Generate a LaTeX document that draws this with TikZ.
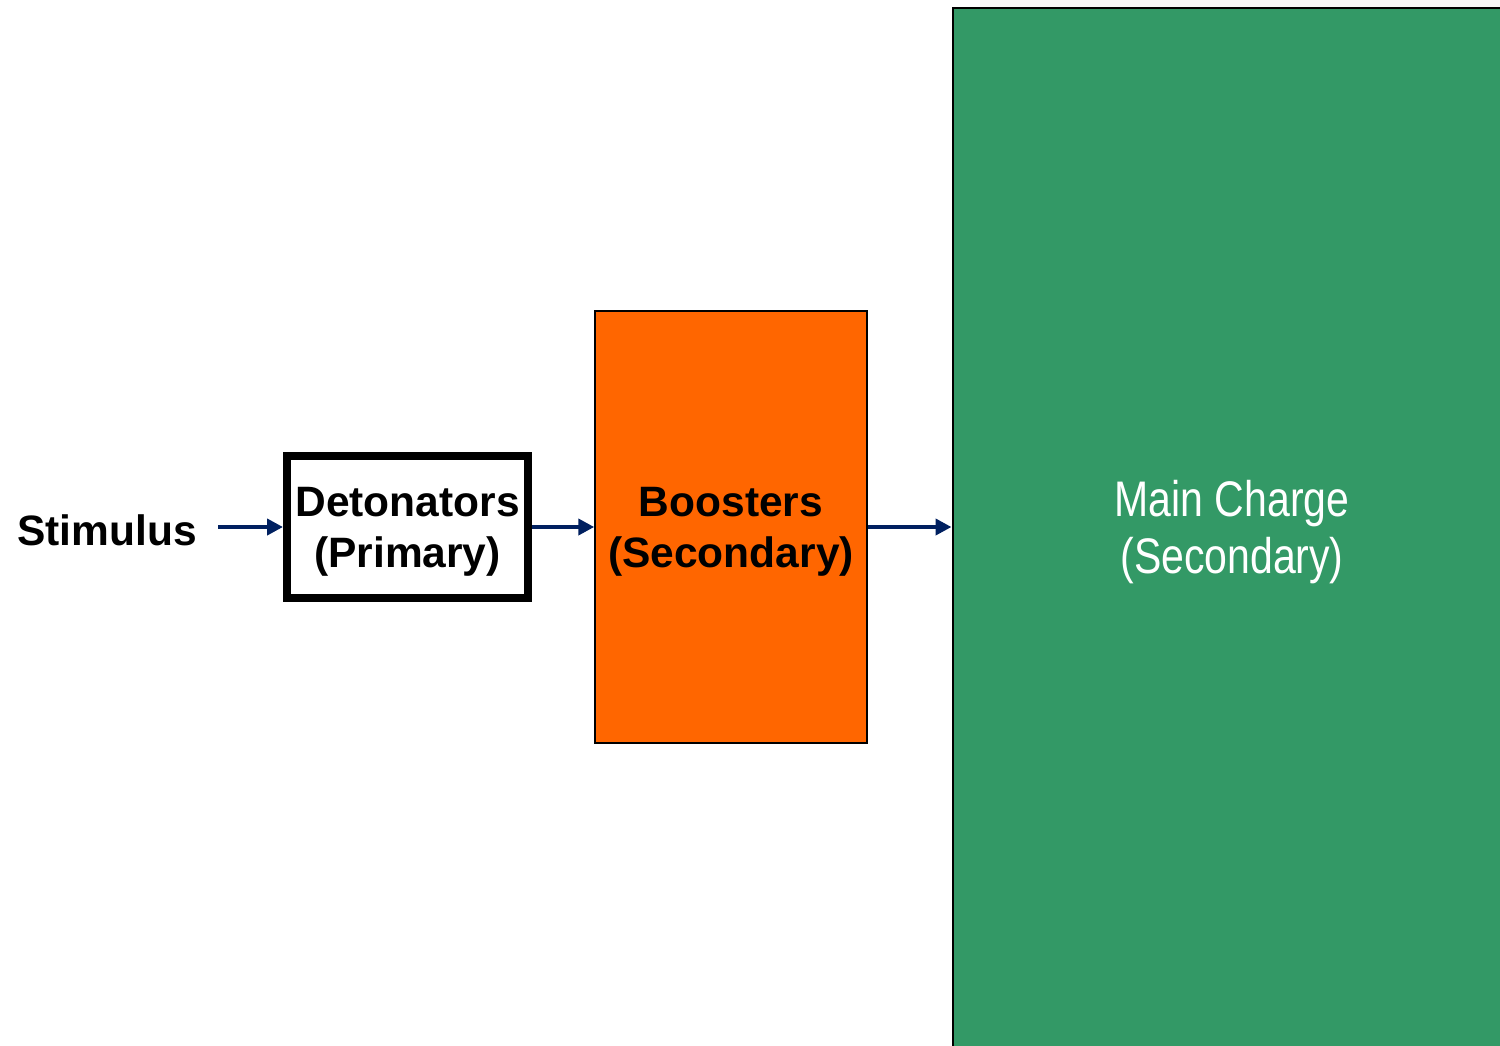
\documentclass[tikz,border=0pt]{standalone}
\usepackage{fontspec}
\setmainfont{Liberation Sans}
\newfontfamily\narrowfont[FakeStretch=0.82]{Liberation Sans}
\usetikzlibrary{arrows.meta}
\definecolor{navy}{RGB}{0,32,96}
\definecolor{boostorange}{RGB}{255,102,0}
\definecolor{maingreen}{RGB}{51,153,102}
\definecolor{stripgray}{RGB}{247,247,247}
\tikzset{
  flow/.style={navy, line width=4.5pt, -{Triangle[length=16pt,width=16pt]}},
  lbl/.style={font=\fontsize{42.5}{51}\selectfont\bfseries, align=center, inner sep=0pt},
}
\begin{document}
\begin{tikzpicture}[x=1pt,y=-1pt]
\useasboundingbox (0,0) rectangle (1500,1045);
\fill[white] (0,0) rectangle (1500,1045);
\fill[stripgray] (980,0) rectangle (1500,7);
% main charge box (extends beyond edges)
\node[draw=black, line width=2pt, fill=maingreen, minimum width=600pt, minimum height=1100pt, inner sep=0pt, anchor=north west] (main) at (951.5,7) {};
\node[text=white, font=\fontsize{50}{57}\selectfont\narrowfont, align=center, inner sep=0pt] (maintext) at (1232,532) {Main Charge\\(Secondary)};
% boosters
\node[draw=black, line width=1.5pt, fill=boostorange, minimum width=272pt, minimum height=432pt, inner sep=0pt] (boost) at (731,527) {};
\node[lbl] (boosttext) at (731,532) {Boosters\\(Secondary)};
% detonators
\node[draw=black, line width=8pt, fill=white, minimum width=241pt, minimum height=142pt, inner sep=0pt] (det) at (407.5,527) {};
\node[lbl] (dettext) at (407.5,532) {Detonators\\(Primary)};
% stimulus
\node[lbl] (stim) at (107,530) {Stimulus};
\coordinate (s0) at (218,527);
\draw[flow] (s0) -- (det.west);
\draw[flow] (det.east) -- (boost.west);
\draw[flow] (boost.east) -- (main.west |- boost.east);
\end{tikzpicture}
\end{document}
